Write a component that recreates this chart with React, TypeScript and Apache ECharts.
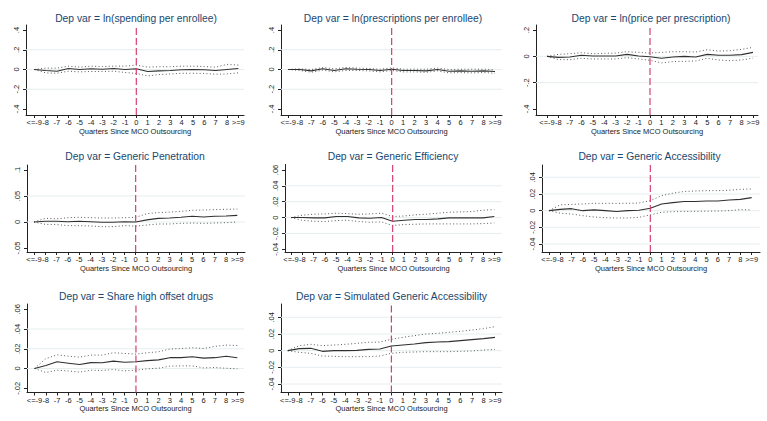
import React, { useEffect, useRef } from "react";
import * as echarts from "echarts";

// Event-time axis: quarters relative to MCO outsourcing (end bins are pooled)
const quarters = [-9, -8, -7, -6, -5, -4, -3, -2, -1, 0, 1, 2, 3, 4, 5, 6, 7, 8, 9];
const quarterLabels = ["<=-9", "-8", "-7", "-6", "-5", "-4", "-3", "-2", "-1", "0", "1", "2", "3", "4", "5", "6", "7", "8", ">=9"];
const xAxisTitle = "Quarters Since MCO Outsourcing";

// ln(spending per enrollee)
const spendEst = [0, -0.01, -0.017, 0.01, 0, 0.007, 0.003, 0.01, 0, 0.007, -0.02, -0.014, -0.01, -0.003, 0, -0.003, -0.01, 0, 0.01];
const spendHi = [0, 0.014, 0.014, 0.034, 0.024, 0.034, 0.03, 0.034, 0.034, 0.045, 0.024, 0.028, 0.028, 0.034, 0.034, 0.03, 0.024, 0.052, 0.045];
const spendLo = [0, -0.034, -0.038, -0.017, -0.024, -0.02, -0.02, -0.017, -0.03, -0.04, -0.065, -0.052, -0.045, -0.038, -0.038, -0.04, -0.048, -0.045, -0.034];

// ln(prescriptions per enrollee)
const rxEst = [0, 0, -0.014, 0.007, -0.01, 0.007, 0.003, 0, -0.01, 0.003, -0.01, -0.01, -0.014, 0, -0.017, -0.014, -0.017, -0.014, -0.02];
const rxHi = [0, 0.007, 0, 0.02, 0.007, 0.02, 0.014, 0.01, 0.003, 0.017, 0.003, 0.003, 0.003, 0.014, 0, 0.003, 0.003, 0.003, -0.003];
const rxLo = [0, -0.01, -0.028, -0.007, -0.024, -0.01, -0.01, -0.014, -0.024, -0.01, -0.024, -0.024, -0.028, -0.014, -0.034, -0.031, -0.034, -0.031, -0.038];

// ln(price per prescription)
const priceEst = [0, -0.008, -0.005, 0.008, 0.003, 0.003, 0.003, 0.015, 0.003, -0.003, -0.015, -0.005, 0, -0.005, 0.015, 0.008, 0.008, 0.013, 0.03];
const priceHi = [0, 0.015, 0.02, 0.028, 0.02, 0.023, 0.025, 0.035, 0.03, 0.025, 0.03, 0.035, 0.035, 0.033, 0.05, 0.04, 0.043, 0.053, 0.068];
const priceLo = [0, -0.025, -0.025, -0.015, -0.02, -0.02, -0.02, -0.01, -0.02, -0.03, -0.05, -0.04, -0.038, -0.035, -0.015, -0.028, -0.033, -0.028, -0.013];

// Generic Penetration
const penEst = [0, 0.0013, 0.0013, 0.0006, 0.0013, 0.0006, -0.0006, -0.0006, 0.0006, 0, 0.004, 0.007, 0.0077, 0.009, 0.011, 0.0096, 0.011, 0.0115, 0.0128];
const penHi = [0, 0.007, 0.006, 0.0083, 0.009, 0.0083, 0.0077, 0.0077, 0.0083, 0.009, 0.016, 0.018, 0.019, 0.0205, 0.0224, 0.023, 0.0237, 0.0244, 0.025];
const penLo = [0, -0.0045, -0.005, -0.007, -0.007, -0.0077, -0.009, -0.009, -0.007, -0.008, -0.0058, -0.0038, -0.0038, -0.0026, -0.002, -0.0026, -0.002, -0.0013, 0];

// Generic Efficiency
const effEst = [0, 0, -0.0004, -0.0004, 0.0013, 0.0013, -0.0004, -0.0008, 0, -0.0046, -0.0034, -0.0025, -0.0025, -0.0017, -0.0004, -0.0004, -0.0004, -0.0004, 0.0013];
const effHi = [0, 0.003, 0.0042, 0.0046, 0.0055, 0.005, 0.0042, 0.0046, 0.0055, 0.0013, 0.002, 0.0034, 0.0042, 0.0055, 0.0067, 0.0072, 0.0076, 0.0093, 0.01];
const effLo = [0, -0.0034, -0.0046, -0.005, -0.0038, -0.0034, -0.005, -0.0059, -0.0055, -0.01, -0.0088, -0.0084, -0.008, -0.008, -0.008, -0.008, -0.008, -0.0076, -0.0067];

// Generic Accessibility
const accEst = [0, 0.0016, 0.0024, 0, 0.001, 0, -0.001, 0, 0.0005, 0.003, 0.008, 0.0096, 0.011, 0.011, 0.0116, 0.0116, 0.0128, 0.0136, 0.0156];
const accHi = [0, 0.007, 0.0075, 0.008, 0.0088, 0.0088, 0.0088, 0.0088, 0.0092, 0.012, 0.018, 0.021, 0.023, 0.0236, 0.024, 0.024, 0.0245, 0.0256, 0.026];
const accLo = [0, -0.003, -0.004, -0.006, -0.0076, -0.0084, -0.0088, -0.0088, -0.008, -0.005, -0.002, -0.0012, -0.001, -0.0008, -0.0006, -0.0004, 0, 0.0012, 0.001];

// Share high offset drugs
const offEst = [0, 0.003, 0.0068, 0.0054, 0.004, 0.006, 0.0058, 0.0075, 0.0064, 0.0068, 0.008, 0.0088, 0.011, 0.011, 0.0119, 0.0105, 0.011, 0.0125, 0.011];
const offHi = [0, 0.01, 0.0139, 0.0125, 0.0115, 0.0136, 0.0136, 0.016, 0.0153, 0.0146, 0.016, 0.017, 0.0197, 0.0203, 0.021, 0.0203, 0.0224, 0.0237, 0.0234];
const offLo = [0, -0.004, -0.0017, -0.0024, -0.0037, -0.0017, -0.002, -0.001, -0.0024, -0.0017, -0.0003, 0.0003, 0.0024, 0.0027, 0.0027, 0.0007, 0.001, 0.0003, -0.0003];

// Simulated Generic Accessibility
const simEst = [0, 0.0024, 0.0028, -0.0008, 0, 0, 0.0004, 0.0016, 0.002, 0.0056, 0.0068, 0.008, 0.0096, 0.0104, 0.0108, 0.012, 0.0132, 0.0144, 0.016];
const simHi = [0, 0.006, 0.0076, 0.006, 0.0068, 0.0076, 0.0088, 0.01, 0.0104, 0.0136, 0.016, 0.018, 0.02, 0.0208, 0.022, 0.0232, 0.0248, 0.0264, 0.0288];
const simLo = [0, -0.002, -0.0032, -0.0064, -0.0068, -0.0072, -0.0072, -0.0072, -0.0064, -0.0032, -0.002, -0.0016, -0.0012, -0.0012, -0.0012, -0.0008, -0.0004, 0.0008, 0.0016];

// Y tick values per panel, and the ones that get a grid line
const ticksLog = [-0.4, -0.2, 0, 0.2, 0.4];
const gridLog = [-0.2, 0, 0.2];
const ticksPrice = [-0.4, -0.2, 0, 0.2];
const gridPrice = [-0.2, 0];
const ticksPen = [-0.05, 0, 0.05, 0.1];
const gridPen = [0, 0.05];
const ticksEff = [-0.04, -0.02, 0, 0.02, 0.04, 0.06];
const gridEff = [-0.02, 0, 0.02, 0.04];
const ticksAcc = [-0.04, -0.02, 0, 0.02, 0.04];
const gridAcc = [-0.04, -0.02, 0, 0.02, 0.04];
const ticksOff = [-0.02, 0, 0.02, 0.04, 0.06];
const gridOff = [0, 0.02, 0.04];

const titles = [
  "Dep var = ln(spending per enrollee)",
  "Dep var = ln(prescriptions per enrollee)",
  "Dep var = ln(price per prescription)",
  "Dep var = Generic Penetration",
  "Dep var = Generic Efficiency",
  "Dep var = Generic Accessibility",
  "Dep var = Share high offset drugs",
  "Dep var = Simulated Generic Accessibility",
];

const FONT = "'Liberation Sans', Arial, Helvetica, sans-serif";
const TITLE_COLOR = "#1a476f";
const AXIS_COLOR = "#222222";
const GRID_COLOR = "#e6eef0";
const XLINE_COLOR = "#d6406c";

type Panel = {
  est: number[];
  hi: number[];
  lo: number[];
  yTicks: number[];
  yGrid: number[];
  yMin: number;
  yMax: number;
  xMin: number;
  xMax: number;
  box: { left: number; top: number; width: number; height: number };
  titleX: number;
  titleY: number;
};

const panels: Panel[] = [
  { est: spendEst, hi: spendHi, lo: spendLo, yTicks: ticksLog, yGrid: gridLog, yMin: -0.461, yMax: 0.451, xMin: -9.73, xMax: 9.5, box: { left: 26, top: 25, width: 218, height: 90 }, titleX: 136, titleY: 18.3 },
  { est: rxEst, hi: rxHi, lo: rxLo, yTicks: ticksLog, yGrid: gridLog, yMin: -0.461, yMax: 0.451, xMin: -9.636, xMax: 9.61, box: { left: 281, top: 25, width: 221, height: 90 }, titleX: 393, titleY: 18.3 },
  { est: priceEst, hi: priceHi, lo: priceLo, yTicks: ticksPrice, yGrid: gridPrice, yMin: -0.4456, yMax: 0.238, xMin: -9.96, xMax: 9.437, box: { left: 536, top: 25, width: 222, height: 90 }, titleX: 651, titleY: 18.3 },
  { est: penEst, hi: penHi, lo: penLo, yTicks: ticksPen, yGrid: gridPen, yMin: -0.0577, yMax: 0.1096, xMin: -9.62, xMax: 9.68, box: { left: 27, top: 165, width: 218, height: 87 }, titleX: 135, titleY: 156.7 },
  { est: effEst, hi: effHi, lo: effLo, yTicks: ticksEff, yGrid: gridEff, yMin: -0.0434, yMax: 0.0669, xMin: -9.53, xMax: 9.68, box: { left: 285, top: 164.5, width: 217, height: 87.5 }, titleX: 393, titleY: 156.7 },
  { est: accEst, hi: accHi, lo: accLo, yTicks: ticksAcc, yGrid: gridAcc, yMin: -0.0496, yMax: 0.0548, xMin: -9.62, xMax: 9.74, box: { left: 542, top: 165, width: 218, height: 87 }, titleX: 649.5, titleY: 156.7 },
  { est: offEst, hi: offHi, lo: offLo, yTicks: ticksOff, yGrid: gridOff, yMin: -0.0243, yMax: 0.0654, xMin: -9.67, xMax: 9.59, box: { left: 27, top: 304, width: 217, height: 88.5 }, titleX: 136, titleY: 296 },
  { est: simEst, hi: simHi, lo: simLo, yTicks: ticksAcc, yGrid: gridAcc, yMin: -0.0502, yMax: 0.056, xMin: -9.59, xMax: 9.61, box: { left: 281, top: 304, width: 221, height: 88.5 }, titleX: 391.5, titleY: 296 },
];

// Stata-style numeric labels: ".4", "-.02", "0"
const stataNum = (v: number): string => {
  if (Math.abs(v) < 1e-12) return "0";
  const s = String(+v.toFixed(4));
  return s.replace(/^(-?)0\./, "$1.");
};

const quarterLabel = (v: number): string => {
  const i = quarters.indexOf(Math.round(v));
  return i >= 0 ? quarterLabels[i] : "";
};

const pairs = (ys: number[]) => ys.map((y, i) => [quarters[i], y]);

function buildOption() {
  const grid: any[] = [];
  const xAxis: any[] = [];
  const yAxis: any[] = [];
  const series: any[] = [];
  const title: any[] = [];

  panels.forEach((p, k) => {
    grid.push({ ...p.box, containLabel: false });
    title.push({
      text: titles[k],
      left: p.titleX,
      top: p.titleY - 6,
      textAlign: "center",
      padding: 0,
      textStyle: { fontFamily: FONT, fontSize: 10.3, fontWeight: "normal", color: TITLE_COLOR, lineHeight: 12 },
    });
    xAxis.push({
      type: "value",
      gridIndex: k,
      min: p.xMin,
      max: p.xMax,
      name: xAxisTitle,
      nameLocation: "middle",
      nameGap: 8.5,
      nameTextStyle: { fontFamily: FONT, fontSize: 7.5, color: AXIS_COLOR },
      axisLine: { show: true, onZero: false, lineStyle: { color: AXIS_COLOR, width: 1 } },
      axisTick: { show: true, length: 3, customValues: quarters, lineStyle: { color: AXIS_COLOR, width: 1 } },
      axisLabel: {
        customValues: quarters,
        formatter: quarterLabel,
        fontFamily: FONT,
        fontSize: 7.5,
        color: AXIS_COLOR,
        margin: 3.5,
        showMinLabel: true,
        showMaxLabel: true,
        hideOverlap: false,
      },
      splitLine: { show: false },
    });
    yAxis.push({
      type: "value",
      gridIndex: k,
      min: p.yMin,
      max: p.yMax,
      axisLine: { show: true, onZero: false, lineStyle: { color: AXIS_COLOR, width: 1 } },
      axisTick: { show: true, length: 3, customValues: p.yTicks, lineStyle: { color: AXIS_COLOR, width: 1 } },
      axisLabel: {
        customValues: p.yTicks,
        formatter: stataNum,
        rotate: 90,
        fontFamily: FONT,
        fontSize: 7.5,
        color: AXIS_COLOR,
        margin: 6,
        showMinLabel: true,
        showMaxLabel: true,
      },
      splitLine: { show: false },
    });

    const base = { type: "line", xAxisIndex: k, yAxisIndex: k, showSymbol: false, symbol: "none", silent: true, animation: false };

    // horizontal grid lines at labeled values
    p.yGrid.forEach((g) => {
      series.push({ ...base, z: 1, data: [[p.xMin, g], [p.xMax, g]], lineStyle: { color: GRID_COLOR, width: 1 } });
    });
    // confidence bounds
    series.push({ ...base, z: 2, data: pairs(p.lo), lineStyle: { color: "#5a5a5a", width: 1, type: [1, 2.4] } });
    series.push({ ...base, z: 2, data: pairs(p.hi), lineStyle: { color: "#5a5a5a", width: 1, type: [1, 2.4] } });
    // point estimates
    series.push({ ...base, z: 3, data: pairs(p.est), lineStyle: { color: "#303030", width: 1.1 } });
    // event date marker
    series.push({ ...base, z: 4, data: [[0, p.yMin], [0, p.yMax]], lineStyle: { color: XLINE_COLOR, width: 1.2, type: [7, 3] } });
  });

  return { animation: false, backgroundColor: "#ffffff", title, grid, xAxis, yAxis, series };
}

export default function App() {
  const ref = useRef<HTMLDivElement>(null);
  useEffect(() => {
    if (!ref.current) return;
    const chart = echarts.init(ref.current, null, { renderer: "svg" });
    chart.setOption(buildOption() as any);
    return () => chart.dispose();
  }, []);
  return (
    <div
      ref={ref}
      style={{ position: "absolute", left: 0, top: 0, width: 767, height: 421, background: "#ffffff" }}
    />
  );
}
